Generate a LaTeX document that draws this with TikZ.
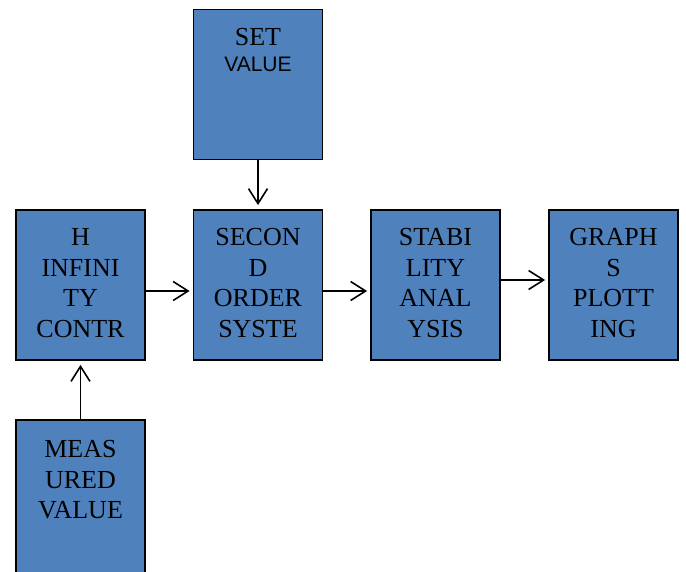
\documentclass[tikz,border=0pt]{standalone}
\usepackage{fontspec}
\setmainfont{Liberation Serif}
\newfontfamily\arialfont{Liberation Sans}
\usetikzlibrary{arrows.meta}
\definecolor{boxblue}{HTML}{4F81BD}
\tikzset{
  blockbox/.style={draw=black, line width=1.8pt, fill=boxblue, rectangle, inner sep=0pt, minimum width=129pt, minimum height=150pt},
  blocktext/.style={align=center, inner sep=0pt, font=\fontsize{26}{30.5}\selectfont},
  flow/.style={line width=1.6pt, -{Straight Barb[length=15pt,width=19pt,line width=1.6pt]}}
}
\begin{document}
\begin{tikzpicture}[x=1pt,y=-1pt]
\clip (0,0) rectangle (686,571);
\fill[white] (0,0) rectangle (686,571);
\node[blockbox] (set) at (258,84.5) {};
\node[blockbox] (hinf) at (80.5,285) {};
\node[blockbox] (sec) at (258,285) {};
\node[blockbox] (stab) at (435.5,285) {};
\node[blockbox] (graph) at (613.5,285) {};
\node[blockbox, minimum height=180pt] (meas) at (80.5,510) {};
\node[blocktext] (settxt) at (258,37) {SET};
\node[align=center, inner sep=0pt, font=\arialfont\fontsize{21}{25}\selectfont] (setval) at (258,64) {VALUE};
\node[blocktext] (hinftxt) at (80.5,283) {H\\INFINI\\TY\\CONTR};
\node[blocktext] (sectxt) at (258,283) {SECON\\D\\ORDER\\SYSTE};
\node[blocktext] (stabtxt) at (435.5,283) {STABI\\LITY\\ANAL\\YSIS};
\node[blocktext] (graphtxt) at (613.5,283) {GRAPH\\S\\PLOTT\\ING};
\node[blocktext] (meastxt) at (80.5,480) {MEAS\\URED\\VALUE};
\draw[flow] (set.south) -- ([yshift=4pt]sec.north);
\draw[flow] ([yshift=-6pt]hinf.east) -- ([yshift=-6pt,xshift=-3pt]sec.west);
\draw[flow] ([yshift=-6pt]sec.east) -- ([yshift=-6pt,xshift=-3pt]stab.west);
\draw[flow] ([yshift=5pt]stab.east) -- ([yshift=5pt,xshift=-3pt]graph.west);
\draw[flow] (meas.north) -- ([yshift=-4pt]hinf.south);
\end{tikzpicture}
\end{document}
